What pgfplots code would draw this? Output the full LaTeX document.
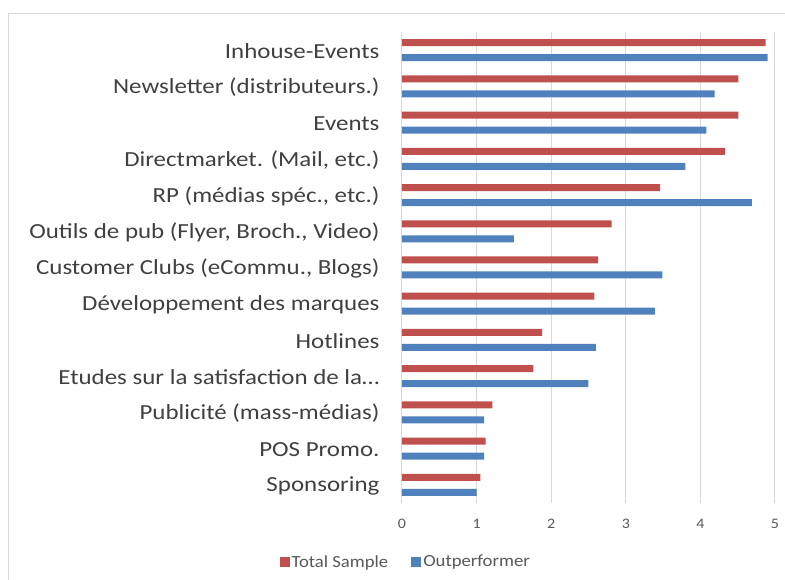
\documentclass[border=0pt]{standalone}
\usepackage{fontspec}
\setmainfont{Carlito}
\newfontfamily\labfont[FakeStretch=1.16]{Carlito}
\newfontfamily\smallfont[FakeStretch=1.1]{Carlito}
\usepackage{pgfplots}
\pgfplotsset{compat=1.18}

\definecolor{exred}{HTML}{C0504D}
\definecolor{exblue}{HTML}{4F81BD}
\definecolor{gridgray}{HTML}{D9D9D9}
\definecolor{labgray}{HTML}{404040}
\definecolor{tickgray}{HTML}{595959}

\begin{document}
\begin{tikzpicture}[x=1pt,y=1pt]
\path[use as bounding box] (0,0) rectangle (785,580);
\draw[gridgray, line width=1pt] (8,0) -- (8,566) -- (786,566);
\begin{axis}[
  at={(402pt,77pt)}, anchor=south west,
  xbar, scale only axis,
  width=373pt, height=471pt,
  xmin=0, xmax=5, ymin=-0.5, ymax=12.5,
  xtick={0,1,2,3,4,5},
  ytick={0,1,2,3,4,5,6,7,8,9,10,11,12},
  yticklabels={Sponsoring, POS Promo., Publicité (mass-médias), {Etudes sur la satisfaction de la…}, Hotlines, Développement des marques, {Customer Clubs (eCommu., Blogs)}, {Outils de pub (Flyer, Broch., Video)}, {RP (médias spéc., etc.)}, {Directmarket. (Mail, etc.)}, Events, Newsletter (distributeurs.), Inhouse-Events},
  /pgf/number format/assume math mode=true,
  yticklabel style={font=\labfont\fontsize{21.5}{24}\selectfont, text=labgray, xshift=-19pt, yshift=-1pt},
  xticklabel style={font=\smallfont\fontsize{14.5}{16}\selectfont, text=tickgray, yshift=-13pt},
  axis line style={draw=none},
  major tick length=0pt,
  xmajorgrids, grid style={gridgray, line width=1pt},
  bar width=7pt,
  legend columns=2,
  legend style={at={(0.01,-0.125)}, anchor=center, draw=none, font=\smallfont\fontsize{17}{19}\selectfont, text=tickgray,
    /tikz/every even column/.append style={column sep=21pt}},
  legend image code/.code={\fill[#1] (0pt,-5pt) rectangle (10pt,5pt);},
]
\addplot[fill=exred, draw=none, bar shift=7.5pt] coordinates {
  (1.05,0) (1.12,1) (1.21,2) (1.76,3) (1.88,4) (2.58,5) (2.63,6)
  (2.81,7) (3.46,8) (4.33,9) (4.51,10) (4.51,11) (4.875,12)};
\addplot[fill=exblue, draw=none, bar shift=-7.5pt] coordinates {
  (1.00,0) (1.10,1) (1.10,2) (2.50,3) (2.60,4) (3.39,5) (3.49,6)
  (1.50,7) (4.69,8) (3.80,9) (4.08,10) (4.19,11) (4.90,12)};
\legend{Total Sample, Outperformer}
\end{axis}
\end{tikzpicture}
\end{document}
